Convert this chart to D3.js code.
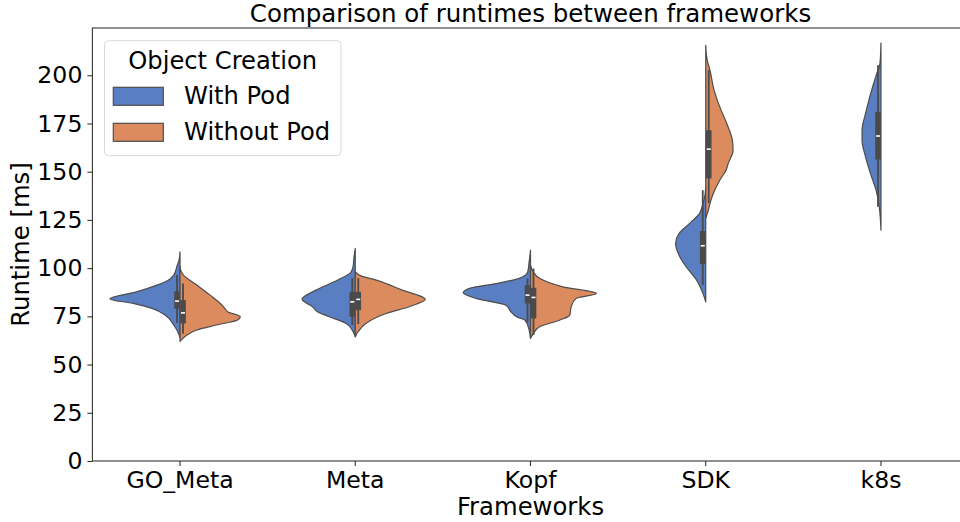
<!DOCTYPE html>
<html>
<head>
<meta charset="utf-8">
<script src="https://cdn.jsdelivr.net/npm/d3@7"></script>
<style>
  body { margin: 0; background: #fff; }
  text { font-family: "DejaVu Sans", sans-serif; fill: #000; }
</style>
</head>
<body>
<div id="chart"></div>
<script>
// categories and hue levels
var frameworks = ["GO_Meta", "Meta", "Kopf", "SDK", "k8s"];
var hues = ["With Pod", "Without Pod"];
var yTicks = [0, 25, 50, 75, 100, 125, 150, 175, 200];

// density outlines: [runtime ms, relative density]
var withPodDensity = [
  [[108.5,0],[104,0.015],[101.5,0.04],[96.4,0.09],[93.5,0.18],[91.2,0.33],[87.7,0.62],[84,1.0],[81.7,0.67],[79.1,0.4],[75.6,0.21],[70.5,0.09],[66,0.02],[64,0]],
  [[110.2,0],[105,0.02],[101,0.03],[98,0.06],[93.8,0.25],[88.6,0.56],[83.8,0.76],[80,0.61],[77.4,0.54],[74.8,0.37],[71.3,0.13],[67,0.03],[64.4,0]],
  [[109.3,0],[103,0.02],[98,0.04],[96.4,0.07],[94.7,0.16],[92,0.49],[89.5,0.87],[87.2,0.96],[84.3,0.78],[80.8,0.35],[77.4,0.28],[74.8,0.2],[73,0.08],[68,0.02],[63.6,0]],
  [[142,0],[136,0.02],[133.5,0.04],[128.3,0.09],[123.2,0.23],[118,0.38],[112.8,0.43],[105.9,0.37],[100.7,0.28],[93.8,0.13],[86.9,0.04],[82.5,0]],
  [[216.7,0],[206,0.015],[200.9,0.06],[188.8,0.16],[180.2,0.22],[171.5,0.27],[166.3,0.27],[157.7,0.22],[149,0.15],[140.4,0.07],[131.8,0.025],[119.7,0]]
];
var withoutPodDensity = [
  [[101,0],[98,0.02],[96.4,0.05],[91.2,0.24],[86,0.43],[80.8,0.6],[79.1,0.64],[77.4,0.68],[74.8,0.86],[73.1,0.82],[70.5,0.52],[67.9,0.24],[65.3,0.1],[62,0]],
  [[98,0],[96,0.08],[93.8,0.3],[88.6,0.67],[83.8,1.0],[80,0.77],[76.5,0.44],[71.3,0.15],[67,0.04],[64.4,0]],
  [[101.5,0],[98,0.04],[94.7,0.13],[90.3,0.46],[86.9,0.94],[84.3,0.65],[80,0.58],[75.6,0.56],[73,0.41],[69.6,0.13],[66,0.04],[63.6,0]],
  [[215.5,0],[208,0.02],[202.6,0.06],[192.2,0.12],[183.6,0.2],[175,0.3],[166.3,0.38],[161.1,0.39],[154.2,0.32],[150.8,0.29],[145.6,0.2],[137,0.09],[133.4,0.06],[129,0.03],[126,0]],
  []
];

// inner boxes: [low whisker, q1, median, q3, high whisker]
var withPodBox = [
  [71.5, 79, 82.9, 88, 96.4],
  [70.5, 74.8, 82.5, 87.7, 94.8],
  [72, 81.7, 86, 91.2, 94.7],
  [91.2, 102.1, 111.6, 119.2, 140.4],
  [131.8, 156.3, 168.5, 181, 205.2]
];
var withoutPodBox = [
  [66, 71.3, 76.8, 83.4, 92],
  [71, 78.2, 83.8, 87.7, 94.8],
  [65.3, 73.9, 84.8, 89.8, 99.8],
  [133.7, 146.5, 161.7, 171.5, 202.6],
  null
];

var colors = ["#5a7ec2", "#db8b5e"];

var W = 960, H = 522;
var plot = {left: 92.4, right: 968.6, top: 28, bottom: 461};

var svg = d3.select("#chart").append("svg")
    .attr("width", W)
    .attr("height", H);

var x = d3.scaleBand()
    .domain(frameworks)
    .range([plot.left, plot.right])
    .padding(0);

var y = d3.scaleLinear()
    .domain([0, 224.5])
    .range([plot.bottom, plot.top]);

// half width of a violin at full density = 0.4 of the band
var w = d3.scaleLinear()
    .domain([0, 1])
    .range([0, x.bandwidth() * 0.4]);

function center(f) { return x(f) + x.bandwidth() / 2; }

var g = svg.append("g");

// violins
[withPodDensity, withoutPodDensity].forEach(function(series, s) {
  var side = s === 0 ? -1 : 1;
  series.forEach(function(pts, i) {
    if (!pts.length) return;
    var cx = center(frameworks[i]);
    var area = d3.area()
        .curve(d3.curveMonotoneY)
        .y(function(d) { return y(d[0]); })
        .x0(cx)
        .x1(function(d) { return cx + side * w(d[1]); });
    g.append("path")
        .attr("d", area(pts))
        .attr("fill", colors[s])
        .attr("stroke", "#4d4d4d")
        .attr("stroke-width", 1.2)
        .attr("stroke-linejoin", "round");
  });
});

// inner boxes
[withPodBox, withoutPodBox].forEach(function(series, s) {
  var side = s === 0 ? -1 : 1;
  series.forEach(function(b, i) {
    if (!b) return;
    var bx = center(frameworks[i]) + side * 3;
    g.append("line")
        .attr("x1", bx).attr("x2", bx)
        .attr("y1", y(b[0])).attr("y2", y(b[4]))
        .attr("stroke", "#4a4a4a")
        .attr("stroke-width", 1.8);
    g.append("rect")
        .attr("x", bx - 2.8)
        .attr("width", 5.6)
        .attr("y", y(b[3]))
        .attr("height", y(b[1]) - y(b[3]))
        .attr("fill", "#4a4a4a");
    g.append("line")
        .attr("x1", bx - 2).attr("x2", bx + 2)
        .attr("y1", y(b[2])).attr("y2", y(b[2]))
        .attr("stroke", "#fff")
        .attr("stroke-width", 1.6);
  });
});

// frame
svg.append("rect")
    .attr("x", plot.left)
    .attr("y", plot.top)
    .attr("width", plot.right - plot.left)
    .attr("height", plot.bottom - plot.top)
    .attr("fill", "none")
    .attr("stroke", "#333")
    .attr("stroke-width", 1.1);

// axes
var xAxis = svg.append("g")
    .attr("transform", "translate(0," + plot.bottom + ")")
    .call(d3.axisBottom(x).tickSize(5).tickPadding(5));
var yAxis = svg.append("g")
    .attr("transform", "translate(" + plot.left + ",0)")
    .call(d3.axisLeft(y).tickValues(yTicks).tickSize(5).tickPadding(5));

[xAxis, yAxis].forEach(function(ax) {
  ax.select(".domain").remove();
  ax.selectAll("line").attr("stroke", "#333").attr("stroke-width", 1.1);
  ax.selectAll("text")
      .attr("fill", "#000")
      .style("font-family", "DejaVu Sans")
      .style("font-size", "23.6px");
});
xAxis.selectAll("text").attr("dy", "0.71em");

// labels
svg.append("text")
    .attr("x", (plot.left + plot.right) / 2)
    .attr("y", 22)
    .attr("text-anchor", "middle")
    .style("font-size", "24.5px")
    .text("Comparison of runtimes between frameworks");

svg.append("text")
    .attr("x", (plot.left + plot.right) / 2)
    .attr("y", 515)
    .attr("text-anchor", "middle")
    .style("font-size", "24.3px")
    .text("Frameworks");

svg.append("text")
    .attr("transform", "translate(29," + (plot.top + plot.bottom) / 2 + ") rotate(-90)")
    .attr("text-anchor", "middle")
    .style("font-size", "24.3px")
    .text("Runtime [ms]");

// legend
var legend = svg.append("g");
legend.append("rect")
    .attr("x", 104.5).attr("y", 40.7)
    .attr("width", 236.5).attr("height", 115)
    .attr("rx", 4)
    .attr("fill", "#fff")
    .attr("fill-opacity", 0.8)
    .attr("stroke", "#d9d9d9")
    .attr("stroke-width", 1);
legend.append("text")
    .attr("x", 222.7).attr("y", 69)
    .attr("text-anchor", "middle")
    .style("font-size", "24.2px")
    .text("Object Creation");
hues.forEach(function(h, i) {
  var yy = 87.3 + i * 36;
  legend.append("rect")
      .attr("x", 113.3).attr("y", yy)
      .attr("width", 50).attr("height", 18)
      .attr("fill", colors[i])
      .attr("stroke", "#4d4d4d")
      .attr("stroke-width", 1.2);
  legend.append("text")
      .attr("x", 184).attr("y", yy + 17)
      .style("font-size", "24.2px")
      .text(h);
});
</script>
</body>
</html>
